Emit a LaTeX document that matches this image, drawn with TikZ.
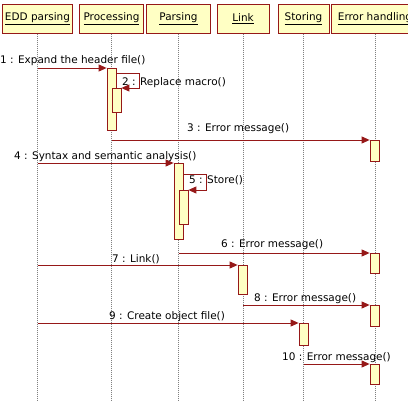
\documentclass[tikz,border=0pt]{standalone}
\usepackage{fontspec}
\setmainfont{DejaVu Sans}
\usepackage{xcolor}
\usetikzlibrary{arrows.meta}
\definecolor{umlfill}{RGB}{255,255,196}
\definecolor{umlline}{RGB}{150,24,24}
\definecolor{msgline}{RGB}{158,50,50}

\begin{document}
\begin{tikzpicture}[x=1bp, y=-1bp,
    font=\fontsize{10.5}{12}\selectfont,
    head/.style={draw=umlline, fill=umlfill, minimum height=29bp, inner sep=1bp, line width=1bp},
    life/.style={gray, dash pattern=on 1bp off 1bp, line width=0.6bp},
    act/.style={draw=umlline, fill=umlfill, minimum width=9bp, inner sep=0pt, line width=0.8bp},
    msg/.style={msgline, line width=0.9bp, -{Triangle[length=8bp,width=7bp]}, umlline},
    lbl/.style={anchor=west, inner sep=0pt}]
    \useasboundingbox (0,0) rectangle (408,406);
    % lifeline heads
    \node[head, minimum width=70bp] (edd) at (37.5,18.5) {\underline{EDD parsing}};
    \node[head, minimum width=63bp] (proc) at (111.5,18.5) {\underline{Processing}};
    \node[head, minimum width=63bp] (pars) at (178.5,18.5) {\underline{Parsing}};
    \node[head, minimum width=52bp] (link) at (243,18.5) {\underline{Link}};
    \node[head, minimum width=51bp] (stor) at (303.5,18.5) {\underline{Storing}};
    \node[head, minimum width=86bp] (err) at (375,18.5) {\underline{Error handling}};
    % lifelines
    \foreach \h in {edd,proc,pars,link,stor,err}
        \draw[life] (\h.south) -- (\h.south |- 0,400);
    % activations
    \node[act, anchor=north, minimum height=62bp] (a1) at (111.5,68) {};
    \node[act, anchor=north, minimum height=24bp] (a2) at (116.5,88) {};
    \node[act, anchor=north, minimum height=21bp] (a3) at (374.5,140) {};
    \node[act, anchor=north, minimum height=76bp] (a4) at (178.5,163) {};
    \node[act, anchor=north, minimum height=34bp] (a5) at (183.5,190) {};
    \node[act, anchor=north, minimum height=20bp] (a6) at (374.5,253) {};
    \node[act, anchor=north, minimum height=29bp] (a7) at (242.5,265) {};
    \node[act, anchor=north, minimum height=21bp] (a8) at (374.5,305) {};
    \node[act, anchor=north, minimum height=22bp] (a9) at (303.5,323) {};
    \node[act, anchor=north, minimum height=20bp] (a10) at (374.5,364) {};
    % messages
    \draw[msg] (edd |- a1.north west) -- (a1.north west);
    \node[lbl] (m1) at (0,61) {1 : Expand the header file()};
    \draw[msg] ([yshift=-5bp]a1.north east) -- ++(23,0) |- (a2.north east);
    \node[lbl] (m2) at (122,83) {2 : Replace macro()};
    \draw[msg] (proc |- a3.north west) -- (a3.north west);
    \node[lbl] (m3) at (187,129) {3 : Error message()};
    \draw[msg] (edd |- a4.north west) -- (a4.north west);
    \node[lbl] (m4) at (14,157) {4 : Syntax and semantic analysis()};
    \draw[msg] ([yshift=-11bp]a4.north east) -- ++(23,0) |- (a5.north east);
    \node[lbl] (m5) at (189,180) {5 : Store()};
    \draw[msg] (pars |- a6.north west) -- (a6.north west);
    \node[lbl] (m6) at (221,245) {6 : Error message()};
    \draw[msg] (edd |- a7.north west) -- (a7.north west);
    \node[lbl] (m7) at (112,259) {7 : Link()};
    \draw[msg] (link |- a8.north west) -- (a8.north west);
    \node[lbl] (m8) at (254,299) {8 : Error message()};
    \draw[msg] (edd |- a9.north west) -- (a9.north west);
    \node[lbl] (m9) at (109,317) {9 : Create object file()};
    \draw[msg] (stor |- a10.north west) -- (a10.north west);
    \node[lbl] (m10) at (282,358) {10 : Error message()};
\end{tikzpicture}
\end{document}
